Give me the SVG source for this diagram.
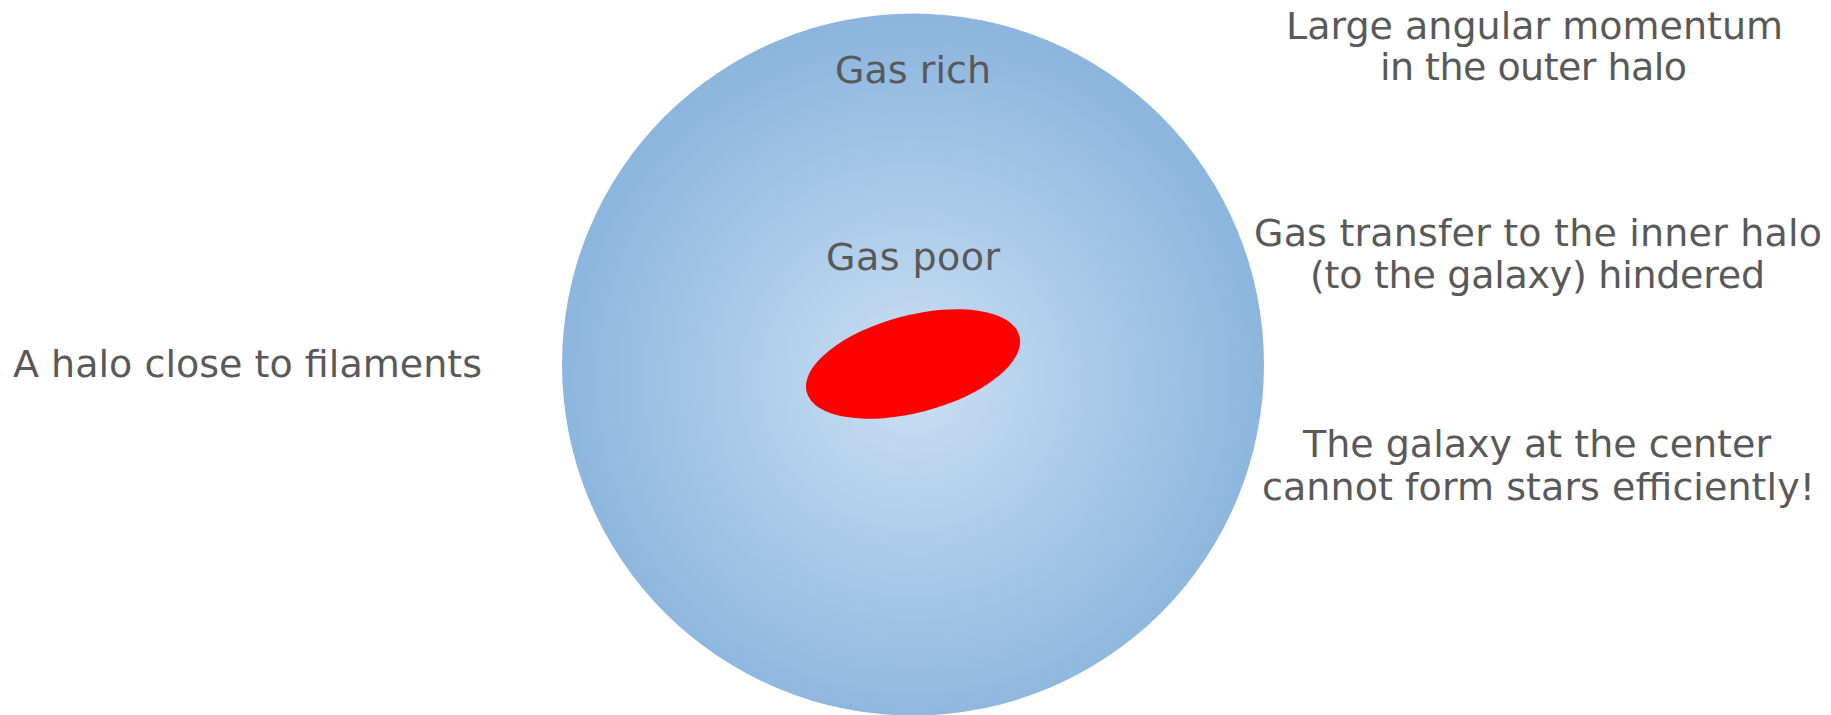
<svg xmlns="http://www.w3.org/2000/svg" width="1831" height="715" viewBox="0 0 1831 715">
  <defs>
    <radialGradient id="haloGrad" cx="913" cy="380" r="355" gradientUnits="userSpaceOnUse">
      <stop offset="0" stop-color="#cbdff3"/>
      <stop offset="1" stop-color="#8cb6de"/>
    </radialGradient>
  </defs>
  <style>
    text { font-family: "DejaVu Sans", "Noto Sans", sans-serif; font-size: 38px; fill: #595959; }
    .c { text-anchor: middle; }
  </style>
  <rect width="1831" height="715" fill="#ffffff"/>
  <g id="halo">
    <circle cx="913" cy="364.5" r="351" fill="url(#haloGrad)"/>
  </g>
  <g id="galaxy">
    <ellipse cx="913" cy="364" rx="110" ry="48.6" transform="rotate(-14.8 913 364)" fill="#ff0000"/>
  </g>
  <g id="labels">
    <text class="c" x="913" y="83" textLength="156">Gas rich</text>
    <text class="c" x="913" y="270" textLength="174">Gas poor</text>
    <text x="13" y="377" textLength="469">A halo close to filaments</text>
    <text class="c" x="1534.5" y="39" textLength="497">Large angular momentum</text>
    <text class="c" x="1533.5" y="80" textLength="307">in the outer halo</text>
    <text class="c" x="1538" y="246" textLength="568">Gas transfer to the inner halo</text>
    <text class="c" x="1537.5" y="288" textLength="455">(to the galaxy) hindered</text>
    <text class="c" x="1537" y="457" textLength="468">The galaxy at the center</text>
    <text class="c" x="1538.5" y="500" textLength="553">cannot form stars efficiently!</text>
  </g>
</svg>
